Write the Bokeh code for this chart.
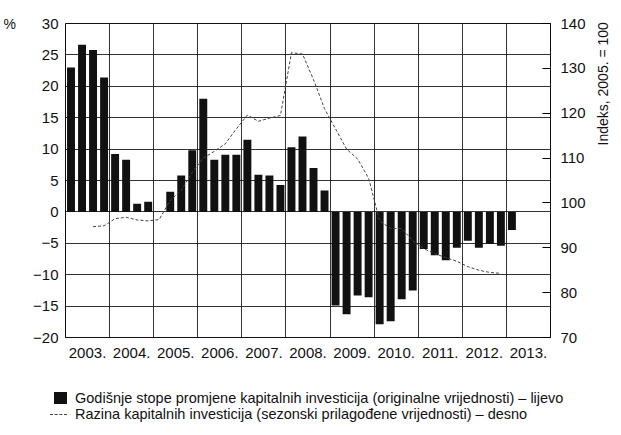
import numpy as np
from bokeh.plotting import figure
from bokeh.models import Range1d, LinearAxis, FixedTicker, Div
from bokeh.layouts import column
from bokeh.embed import file_html
from bokeh.resources import INLINE

FONT = "Liberation Sans"

years = list(range(2003, 2014))
year_labels = [f"{y}." for y in years]

# Annual growth rate of capital investment, % (left axis), quarterly 2003Q1-2013Q1
growth = [23.0, 26.6, 25.8, 21.4,
          9.2, 8.3, 1.3, 1.6,
          0.0, 3.2, 5.8, 9.8,
          18.0, 8.3, 9.1, 9.1,
          11.5, 5.9, 5.8, 4.3,
          10.3, 12.0, 7.0, 3.4,
          -14.9, -16.3, -13.3, -13.6,
          -17.9, -17.4, -13.9, -12.5,
          -5.9, -6.9, -7.7, -5.7,
          -4.6, -5.7, -5.1, -5.4,
          -2.9]

# Level of capital investment, index 2005 = 100, seasonally adjusted (right axis)
level = [np.nan, np.nan, 94.7, 94.9,
         96.5, 96.8, 96.2, 96.0,
         96.3, 100.6, 102.8, 106.8,
         110.0, 111.5, 113.2, 116.5,
         119.6, 118.2, 118.9, 119.5,
         133.5, 133.2, 127.5, 121.0,
         116.5, 112.0, 109.8, 105.5,
         96.0, 94.3, 94.3, 91.6,
         89.8, 88.7, 87.8, 87.0,
         85.8, 85.0, 84.5, 84.3,
         np.nan]

left_ticks = list(range(-20, 31, 5))
right_ticks = list(range(70, 141, 10))

right_title = "Indeks, 2005. = 100"
legend_texts = ["Godišnje stope promjene kapitalnih investicija (originalne vrijednosti) \u2013 lijevo",
                "Razina kapitalnih investicija (sezonski prilagođene vrijednosti) \u2013 desno"]

xq = [y + (q + 0.5) / 4 for y in years for q in range(4)][:len(growth)]

p = figure(width=621, height=370, x_range=Range1d(2003, 2014), y_range=Range1d(-20, 30),
           output_backend="svg", toolbar_location=None,
           min_border_left=65, min_border_right=65, min_border_top=23, min_border_bottom=33)
p.extra_y_ranges = {"right": Range1d(70, 140)}
p.background_fill_color = "white"
p.border_fill_color = "white"
p.outline_line_color = "#111"
p.outline_line_width = 1

bars = p.vbar(x=xq, top=growth, bottom=0, width=0.18, fill_color="#111", line_color=None)
line = p.line(x=xq, y=np.array(level, dtype=float), y_range_name="right",
              line_color="#444", line_width=1, line_dash="3 2")

def style_axis(ax):
    ax.minor_tick_line_color = None
    ax.axis_line_color = "#111"
    ax.major_label_text_font = FONT
    ax.major_label_text_font_size = "15px"
    ax.major_label_text_color = "#111"
    ax.axis_label_text_font = FONT
    ax.axis_label_text_font_size = "14px"
    ax.axis_label_text_font_style = "normal"
    ax.axis_label_text_color = "#111"

# left axis
ya = p.yaxis[0]
style_axis(ya)
ya.ticker = FixedTicker(ticks=left_ticks)
ya.major_label_overrides = {t: (f"\u2212{abs(t)}" if t < 0 else str(t)) for t in left_ticks}
ya.major_tick_in = 0
ya.major_tick_out = 0
ya.major_label_standoff = 7
ya.axis_label = "%"
ya.axis_label_orientation = "horizontal"
ya.axis_label_standoff = 14
try:
    ya.axis_label_align = "end"
except Exception:
    pass

# right axis: label reads bottom-to-top, starting a little above the middle of the axis
ra = LinearAxis(y_range_name="right", ticker=FixedTicker(ticks=right_ticks))
style_axis(ra)
ra.major_tick_in = 8
ra.major_tick_out = 0
ra.major_label_standoff = 10
ra.axis_label = "\u00a0" * 9 + right_title
ra.axis_label_orientation = np.pi / 2
ra.axis_label_standoff = 14
p.add_layout(ra, "right")

# x axis
xa = p.xaxis[0]
style_axis(xa)
xa.ticker = FixedTicker(ticks=[y + 0.5 for y in years])
xa.major_label_overrides = {y + 0.5: lab for y, lab in zip(years, year_labels)}
xa.major_tick_in = 0
xa.major_tick_out = 0
xa.major_label_standoff = 10

# grids
p.xgrid.ticker = FixedTicker(ticks=years[1:])
p.xgrid.grid_line_color = "#111"
p.xgrid.grid_line_alpha = 0.85
p.ygrid.grid_line_color = "#111"
p.ygrid.grid_line_alpha = 0.85

legend_html = (
    f'<div style="position:relative;width:621px;height:62px;font-family:\'{FONT}\';'
    f'font-size:14.5px;color:#111;line-height:16px;">'
    '<span style="position:absolute;left:49px;top:17px;width:13px;height:12px;background:#111;"></span>'
    f'<span style="position:absolute;left:70px;top:15px;white-space:nowrap;">{legend_texts[0]}</span>'
    '<span style="position:absolute;left:45px;top:39px;width:17px;height:0;border-top:1px dashed #444;"></span>'
    f'<span style="position:absolute;left:70px;top:31px;white-space:nowrap;">{legend_texts[1]}</span>'
    '</div>'
)
leg = Div(text=legend_html, width=621, height=62)

layout = column(p, leg, spacing=0)
open("out.html", "w").write(file_html(layout, INLINE))
